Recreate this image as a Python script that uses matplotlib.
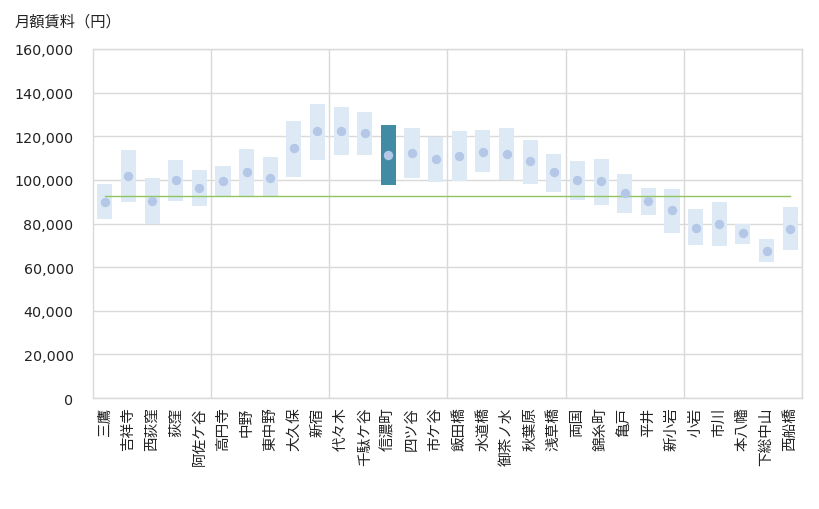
import numpy as np
import matplotlib
matplotlib.use('Agg')
import matplotlib.pyplot as plt

plt.rcParams['font.family'] = ['DejaVu Sans', 'Noto Sans CJK JP']

# stations along the line, rent range (min/max) and mean
stations = ['三鷹', '吉祥寺', '西荻窪', '荻窪', '阿佐ケ谷', '高円寺', '中野', '東中野', '大久保', '新宿',
            '代々木', '千駄ケ谷', '信濃町', '四ツ谷', '市ケ谷', '飯田橋', '水道橋', '御茶ノ水', '秋葉原', '浅草橋',
            '両国', '錦糸町', '亀戸', '平井', '新小岩', '小岩', '市川', '本八幡', '下総中山', '西船橋']
low = np.array([82000, 90000, 80000, 90500, 88000, 92000, 92500, 92000, 101500, 109000,
                111500, 111500, 97500, 101000, 99000, 99500, 103500, 100000, 98000, 94500,
                91000, 88500, 85000, 84000, 75500, 70000, 69500, 70500, 62500, 68000])
high = np.array([98000, 113500, 101000, 109000, 104500, 106500, 114000, 110500, 127000, 135000,
                 133500, 131000, 125000, 124000, 119500, 122500, 123000, 124000, 118500, 112000,
                 108500, 109500, 102500, 96500, 96000, 86500, 90000, 80000, 73000, 87500])
mean = np.array([90000, 102000, 90500, 100000, 96500, 99500, 103500, 101000, 114500, 122500,
                 122500, 121500, 111500, 112500, 109500, 111000, 113000, 112000, 108500, 103500,
                 100000, 99500, 94000, 90500, 86000, 78000, 80000, 75500, 67500, 77500])
average = 92500
highlight = '信濃町'

fig = plt.figure(figsize=(8.2, 5.1), dpi=100)
ax = fig.add_axes([0.1134, 0.2176, 0.8646, 0.6844])

x = np.arange(len(stations))
colors = ['#428BA5' if s == highlight else '#DDEAF6' for s in stations]
ax.bar(x, high - low, bottom=low, width=0.64, color=colors, zorder=2)
ax.scatter(x, mean, s=46, color='#B4C7E7', zorder=4, linewidths=0)
ax.plot([x[0], x[-1]], [average, average], color='#8FC45E', lw=1, zorder=3)

ax.set_xlim(-0.5, len(stations) - 0.5)
ax.set_ylim(0, 160000)
ax.set_yticks(np.arange(0, 160001, 20000))
ax.set_yticklabels(['{:,}'.format(v) for v in range(0, 160001, 20000)], fontsize=10.3, color='#222222')
ax.set_xticks(x)
ax.set_xticklabels(stations, rotation=90, fontsize=10.5, family=['Noto Sans CJK JP', 'DejaVu Sans'], color='#222222')
ax.set_xticks(np.arange(4.5, len(stations), 5), minor=True)
ax.tick_params(axis='both', which='both', length=0)
ax.tick_params(axis='y', pad=14)
ax.tick_params(axis='x', pad=6)

ax.grid(axis='y', color='#D9D9D9', lw=1, zorder=0)
ax.grid(axis='x', which='minor', color='#D9D9D9', lw=1, zorder=0)
for sp in ax.spines.values():
    sp.set_color('#D9D9D9')
    sp.set_linewidth(1)
ax.set_axisbelow(True)

fig.text(0.018, 0.957, '月額賃料（円）', fontsize=11, va='center', ha='left',
         family=['Noto Sans CJK JP', 'DejaVu Sans'], color='#222222')

fig.savefig('out.png', dpi=100)
